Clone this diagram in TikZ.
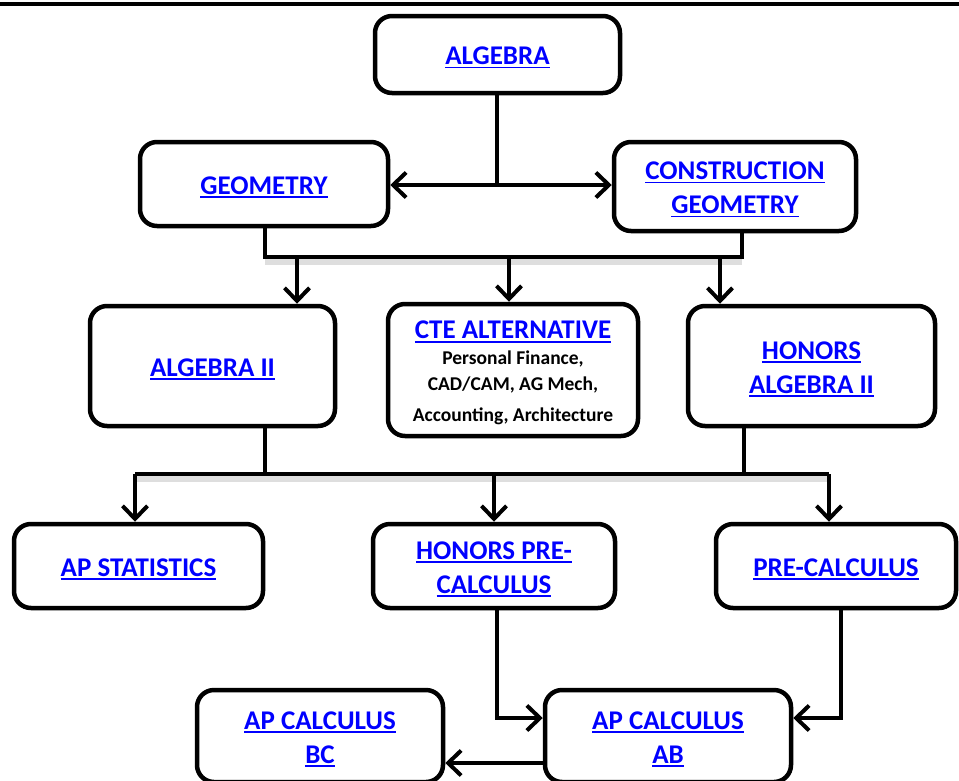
\documentclass[tikz,border=0pt]{standalone}
\usepackage{fontspec}
\setmainfont{Carlito}
\usetikzlibrary{arrows.meta}
\definecolor{lnk}{RGB}{0,0,255}
\newsavebox\lkbox
\newcommand\lk[1]{\textcolor{lnk}{\sbox\lkbox{#1}\rlap{\rule[-3.8pt]{\wd\lkbox}{1.8pt}}\usebox\lkbox}}
\tikzset{
  box/.style={draw, line width=4.5pt, rounded corners=17pt, fill=white, align=flush center,
    text width=240pt, inner sep=0pt, font=\fontsize{27}{34}\selectfont\bfseries,
    execute at begin node={\rule{0pt}{24pt}}},
  conn/.style={line width=4pt},
  arr/.style={conn, -{Straight Barb[length=13pt,width=25pt]}},
  shad/.style={line width=6pt, black!13}
}
\begin{document}
\begin{tikzpicture}[x=1pt,y=-1pt]
\useasboundingbox (0,0) rectangle (959,780);
\draw[line width=4.5pt] (0,4) -- (959,4);
% boxes
\node[box, minimum width=245pt, minimum height=77pt] (alg) at (497.5,54.5) {\lk{ALGEBRA}};
\node[box, minimum width=248pt, minimum height=84pt] (geo) at (264,184) {\lk{GEOMETRY}};
\node[box, minimum width=242pt, minimum height=89pt] (cgeo) at (735,186.5) {\lk{CONSTRUCTION}\\\lk{GEOMETRY}};
\node[box, minimum width=245pt, minimum height=120pt] (alg2) at (212.5,366) {\lk{ALGEBRA II}};
\node[box, minimum width=250pt, minimum height=132pt] (cte) at (513,370)
  {\lk{CTE ALTERNATIVE}\\\fontsize{19.5}{26}\selectfont Personal Finance,\\CAD/CAM, AG Mech,\\[-3pt]Accounting, Architecture};
\node[box, minimum width=247pt, minimum height=120pt] (halg) at (811.5,366) {\lk{HONORS}\\\lk{ALGEBRA II}};
\node[box, minimum width=249pt, minimum height=84pt] (apstat) at (138.5,566) {\lk{AP STATISTICS}};
\node[box, minimum width=242pt, minimum height=84pt] (hpre) at (494,566) {\lk{HONORS PRE-}\\\lk{CALCULUS}};
\node[box, minimum width=236pt, minimum height=84pt] (pre) at (836,566) {\lk{PRE-CALCULUS}};
\node[box, minimum width=246pt, minimum height=92pt] (bc) at (320,736) {\lk{AP CALCULUS}\\\lk{BC}};
\node[box, minimum width=246pt, minimum height=92pt] (ab) at (668,736) {\lk{AP CALCULUS}\\\lk{AB}};
% algebra to geometry / construction geometry
\coordinate (j1) at (497,185);
\draw[conn] (alg.south -| j1) -- (j1);
\draw[arr] (j1) -- (j1 -| geo.east);
\draw[arr] (j1) -- (j1 -| cgeo.west);
% first bus
\coordinate (b1l) at (265,257);
\coordinate (b1r) at (742,257);
\draw[shad] ([yshift=-5pt]b1l) -- ([yshift=-5pt]b1r);
\draw[conn] (b1l |- geo.south) -- (b1l) -- (b1r) -- (b1r |- cgeo.south);
\coordinate (a1) at (297,257);
\coordinate (a2) at (509,257);
\coordinate (a3) at (720,257);
\draw[arr] (a1) -- (a1 |- alg2.north);
\draw[arr] (a2) -- (a2 |- cte.north);
\draw[arr] (a3) -- (a3 |- halg.north);
% second bus
\coordinate (b2l) at (135,474);
\coordinate (b2r) at (829,474);
\coordinate (u1) at (265,474);
\coordinate (u2) at (744,474);
\coordinate (m2) at (494,474);
\draw[shad] ([yshift=-5pt]b2l) -- ([yshift=-5pt]b2r);
\draw[conn] (u1 |- alg2.south) -- (u1);
\draw[conn] (u2 |- halg.south) -- (u2);
\draw[conn] (b2l) -- (b2r);
\draw[arr] (b2l) -- (b2l |- apstat.north);
\draw[arr] (m2) -- (m2 |- hpre.north);
\draw[arr] (b2r) -- (b2r |- pre.north);
% bottom
\coordinate (c1) at (497,718);
\coordinate (c2) at (841,718);
\coordinate (c3) at (668,763);
\draw[arr] (c1 |- hpre.south) -- (c1) -- (c1 -| ab.west);
\draw[arr] (c2 |- pre.south) -- (c2) -- (c2 -| ab.east);
\draw[arr] (c3 -| ab.west) -- (c3 -| bc.east);
\end{tikzpicture}
\end{document}
